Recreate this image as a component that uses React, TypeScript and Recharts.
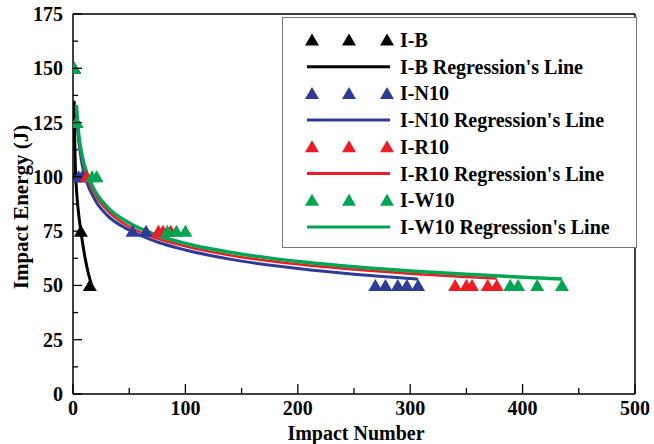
import React from "react";
import {
  ComposedChart,
  Line,
  Scatter,
  XAxis,
  YAxis,
  ReferenceLine,
  Label
} from "recharts";

const FONT = "'Liberation Serif', 'Times New Roman', serif";

// measured impacts (Impact Number, Impact Energy J)
const ibN = [1, 1, 2, 7, 15];
const ibE = [150, 125, 100, 75, 50];
const in10N = [1, 3, 5, 8, 53, 65, 269, 278, 289, 297, 307];
const in10E = [150, 125, 100, 100, 75, 75, 50, 50, 50, 50, 50];
const ir10N = [1, 3, 12, 76, 80, 87, 340, 350, 355, 369, 377];
const ir10E = [150, 125, 100, 75, 75, 75, 50, 50, 50, 50, 50];
const iw10N = [1, 3, 17, 21, 84, 92, 100, 389, 396, 413, 435];
const iw10E = [150, 125, 100, 100, 75, 75, 75, 50, 50, 50, 50];

// regression curves
const regBN = [1, 1.5, 2, 3, 4, 5, 7, 9, 11, 13, 15, 17];
const regBE = [135, 118, 106, 95, 88, 83, 75, 68, 62, 57, 53, 49];
const regNN = [3, 5, 8, 12, 20, 30, 50, 75, 100, 150, 200, 250, 300, 307];
const regNE = [128, 117, 106, 98, 89, 82.5, 75.5, 70, 66.3, 61.2, 57.8, 55.2, 53.2, 52.9];
const regRN = [3, 5, 8, 12, 20, 30, 50, 75, 100, 150, 200, 250, 300, 350, 377];
const regRE = [131, 119, 109, 100.5, 91.5, 84.8, 77, 71.6, 68, 63, 59.7, 57.3, 55.4, 53.9, 53.2];
const regWN = [3, 5, 8, 12, 20, 30, 50, 75, 100, 150, 200, 250, 300, 350, 400, 435];
const regWE = [133, 120, 110, 102.2, 93.1, 86.4, 78.7, 73.1, 69.3, 64.4, 61, 58.6, 56.7, 55.1, 53.8, 53];

const xTicks = [0, 50, 100, 150, 200, 250, 300, 350, 400, 450, 500];
const yTicks = [0, 12.5, 25, 37.5, 50, 62.5, 75, 87.5, 100, 112.5, 125, 137.5, 150, 162.5, 175];

const BLACK = "#000000";
const BLUE = "#2e3b97";
const RED = "#ed1c24";
const GREEN = "#00a651";

const zip = (ns: number[], es: number[]) => ns.map((n, i) => ({ n, e: es[i] }));

const triPath = (cx: number, cy: number) =>
  `M${cx},${cy - 6.5}L${cx + 7},${cy + 5.5}L${cx - 7},${cy + 5.5}Z`;

const tri = (color: string) => (props: any) => {
  const { cx, cy } = props;
  if (cx == null || cy == null) return <g />;
  return <path d={triPath(cx, cy)} fill={color} />;
};

const TICK_GAP = 10;

const YTick = (props: any) => {
  const { x, y, payload } = props;
  const axisX = x + TICK_GAP;
  const major = payload.value % 25 === 0;
  return (
    <g>
      <line x1={axisX} x2={axisX + (major ? 9 : 5)} y1={y} y2={y} stroke="#000" strokeWidth={1.3} />
      {major && (
        <text x={x} y={y} textAnchor="end" dominantBaseline="central" fontFamily={FONT} fontWeight="bold" fontSize={20} fill="#000">
          {payload.value}
        </text>
      )}
    </g>
  );
};

const XTick = (props: any) => {
  const { x, y, payload } = props;
  const axisY = y - TICK_GAP;
  const major = payload.value % 100 === 0;
  return (
    <g>
      <line x1={x} x2={x} y1={axisY} y2={axisY - (major ? 10 : 6)} stroke="#000" strokeWidth={1.3} />
      {major && (
        <text x={x} y={y - 3} textAnchor="middle" dominantBaseline="hanging" fontFamily={FONT} fontWeight="bold" fontSize={20} fill="#000">
          {payload.value}
        </text>
      )}
    </g>
  );
};

const YTitle = (props: any) => {
  const { viewBox } = props;
  const cx = 21;
  const cy = viewBox.y + viewBox.height / 2 + 3;
  return (
    <text x={cx} y={cy} transform={`rotate(-90 ${cx} ${cy})`} textAnchor="middle" dominantBaseline="central" fontFamily={FONT} fontWeight="bold" fontSize={21} fill="#000">
      Impact Energy (J)
    </text>
  );
};

const XTitle = (props: any) => {
  const { viewBox } = props;
  const cx = viewBox.x + viewBox.width / 2 + 2;
  return (
    <text x={cx} y={433} textAnchor="middle" dominantBaseline="central" fontFamily={FONT} fontWeight="bold" fontSize={20} fill="#000">
      Impact Number
    </text>
  );
};

const legendRows = [
  { kind: "tri", color: BLACK, label: "I-B" },
  { kind: "line", color: BLACK, label: "I-B Regression's Line" },
  { kind: "tri", color: BLUE, label: "I-N10" },
  { kind: "line", color: BLUE, label: "I-N10 Regression's Line" },
  { kind: "tri", color: RED, label: "I-R10" },
  { kind: "line", color: RED, label: "I-R10 Regression's Line" },
  { kind: "tri", color: GREEN, label: "I-W10" },
  { kind: "line", color: GREEN, label: "I-W10 Regression's Line" }
];

const LegendBox = () => (
  <svg width={654} height={444} style={{ position: "absolute", left: 0, top: 0, pointerEvents: "none" }}>
    <rect x={282.5} y={17.5} width={354} height={230} fill="#fff" stroke="#777" strokeWidth={1} />
    {legendRows.map((r, i) => {
      const cy = 40 + i * 26.7;
      return (
        <g key={r.label}>
          {r.kind === "tri" ? (
            [312, 349, 387].map((cx) => <path key={cx} d={triPath(cx, cy)} fill={r.color} />)
          ) : (
            <line x1={307} x2={390} y1={cy} y2={cy} stroke={r.color} strokeWidth={3} />
          )}
          <text x={400} y={cy} dominantBaseline="central" fontFamily={FONT} fontWeight="bold" fontSize={20} fill="#000">
            {r.label}
          </text>
        </g>
      );
    })}
  </svg>
);

export default function App() {
  return (
    <div style={{ position: "absolute", left: 0, top: 0, width: 654, height: 444, background: "#fff" }}>
      <ComposedChart width={654} height={444} margin={{ top: 14, right: 19, bottom: 0, left: 0 }}>
        <XAxis
          dataKey="n"
          type="number"
          domain={[0, 500]}
          ticks={xTicks}
          interval={0}
          height={50}
          tickSize={0}
          tickMargin={TICK_GAP}
          tickLine={false}
          axisLine={{ stroke: "#000", strokeWidth: 1.5 }}
          tick={<XTick />}
          allowDataOverflow
        >
          <Label content={<XTitle />} />
        </XAxis>
        <YAxis
          dataKey="e"
          type="number"
          domain={[0, 175]}
          ticks={yTicks}
          interval={0}
          width={73}
          tickSize={0}
          tickMargin={TICK_GAP}
          tickLine={false}
          axisLine={{ stroke: "#000", strokeWidth: 1.5 }}
          tick={<YTick />}
          allowDataOverflow
        >
          <Label content={<YTitle />} />
        </YAxis>
        <ReferenceLine y={175} stroke="#000" strokeWidth={1.5} />
        <ReferenceLine x={500} stroke="#000" strokeWidth={1.5} />
        <Scatter name="I-B" data={zip(ibN, ibE)} shape={tri(BLACK)} isAnimationActive={false} />
        <Scatter name="I-N10" data={zip(in10N, in10E)} shape={tri(BLUE)} isAnimationActive={false} />
        <Scatter name="I-R10" data={zip(ir10N, ir10E)} shape={tri(RED)} isAnimationActive={false} />
        <Scatter name="I-W10" data={zip(iw10N, iw10E)} shape={tri(GREEN)} isAnimationActive={false} />
        <Line data={zip(regBN, regBE)} dataKey="e" type="monotone" stroke={BLACK} strokeWidth={3} dot={false} isAnimationActive={false} />
        <Line data={zip(regNN, regNE)} dataKey="e" type="monotone" stroke={BLUE} strokeWidth={3} dot={false} isAnimationActive={false} />
        <Line data={zip(regRN, regRE)} dataKey="e" type="monotone" stroke={RED} strokeWidth={2.5} dot={false} isAnimationActive={false} />
        <Line data={zip(regWN, regWE)} dataKey="e" type="monotone" stroke={GREEN} strokeWidth={3.5} dot={false} isAnimationActive={false} />
      </ComposedChart>
      <LegendBox />
    </div>
  );
}
